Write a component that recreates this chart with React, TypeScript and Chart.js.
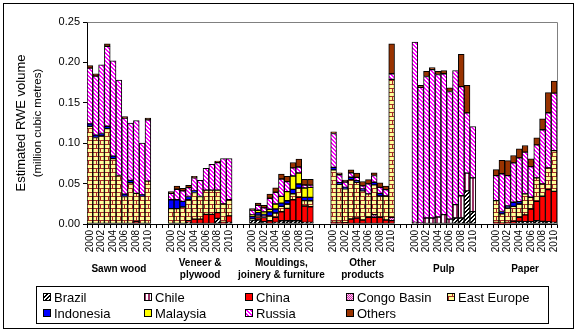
import React, { useEffect, useRef } from 'react';
import { Chart, registerables } from 'chart.js';

Chart.register(...registerables);

const FONT = "'Liberation Sans', Arial, Helvetica, sans-serif";

// ---- categories ----
const yearLabels = ['2000', '', '2002', '', '2004', '', '2006', '', '2008', '', '2010'];
const groupNames: string[][] = [
  ['Sawn wood'],
  ['Veneer &', 'plywood'],
  ['Mouldings,', 'joinery & furniture'],
  ['Other', 'products'],
  ['Pulp'],
  ['Paper'],
];
const gapSize = 3;
const yTicks = [0, 0.05, 0.1, 0.15, 0.2, 0.25];

const seriesNames = ['Brazil', 'Chile', 'China', 'Congo Basin', 'East Europe', 'Indonesia', 'Malaysia', 'Russia', 'Others'];

const n = null;
// each series: Sawn wood | Veneer & plywood | Mouldings | Other products | Pulp | Paper  (2000..2010)
const brazil = [
  n, n, n, n, n, n, n, n, n, n, n,
  n, n, n, 0.002, n, n, n, n, 0.007, n, 0.002,
  0.005, 0.005, 0.003, n, 0.002, 0.004, 0.004, 0.004, 0.004, 0.002, 0.002,
  n, n, n, n, n, n, n, n, n, n, n,
  n, n, n, n, n, n, n, 0.0074, 0.0074, 0.041, 0.0153,
  n, n, n, n, 0.0033, 0.0029, 0.0029, 0.004, 0.0033, 0.0029, 0.002,
];
const chile = [
  n, n, n, n, n, n, n, n, n, n, n,
  n, n, n, n, n, n, n, n, n, n, n,
  n, n, n, n, n, n, n, n, n, n, n,
  n, n, n, n, n, n, n, n, n, n, n,
  0.002, 0.001, 0.0074, 0.0074, 0.0087, 0.0116, 0.006, 0.0166, 0.0276, 0.022, 0.0417,
  n, n, n, n, n, n, n, n, n, n, n,
];
const china = [
  n, n, n, n, n, n, n, n, 0.003, n, n,
  n, n, n, 0.002, 0.006, 0.006, 0.012, 0.012, 0.007, 0.002, 0.008,
  n, 0.003, 0.005, 0.004, 0.0062, 0.0112, 0.0153, 0.026, 0.0289, 0.0203, 0.0194,
  0.002, 0.002, 0.0017, 0.0062, 0.0074, 0.005, 0.0083, 0.0083, 0.0083, 0.005, 0.0041,
  n, n, n, n, n, n, n, n, n, n, n,
  0.002, 0.001, 0.002, 0.0033, 0.005, 0.0083, 0.0157, 0.024, 0.031, 0.0397, 0.0384,
];
const congoBasin = [
  n, n, n, n, n, n, n, n, n, n, n,
  n, n, n, n, n, n, n, n, n, n, n,
  n, n, n, n, n, n, n, n, n, n, n,
  n, n, n, n, n, n, n, 0.0033, n, n, 0.0041,
  n, n, n, n, n, n, n, n, n, n, n,
  n, n, n, n, n, n, n, n, n, n, n,
];
const eastEurope = [
  0.121, 0.107, 0.109, 0.118, 0.081, 0.06, 0.034, 0.051, 0.035, 0.035, 0.053,
  0.019, 0.019, 0.021, 0.026, 0.033, 0.028, 0.03, 0.03, 0.028, 0.023, 0.02,
  0.0012, 0.003, 0.002, 0.006, 0.0054, 0.0066, 0.0054, 0.0074, 0.0116, 0.0066, 0.0074,
  0.065, 0.047, 0.0417, 0.0488, 0.0442, 0.036, 0.0289, 0.0368, 0.0264, 0.0297, 0.1707,
  n, n, n, n, n, n, n, n, n, n, n,
  0.0269, 0.0116, 0.0178, 0.0186, 0.0165, 0.026, 0.0145, 0.029, 0.0153, 0.0269, 0.0504,
];
const indonesia = [
  0.003, 0.003, 0.003, 0.003, 0.003, n, 0.003, 0.003, n, 0.001, n,
  0.011, 0.011, 0.007, 0.004, 0.002, n, n, n, n, n, n,
  0.003, 0.003, 0.002, 0.005, 0.005, 0.0041, 0.0041, 0.0054, 0.005, 0.0041, 0.0041,
  0.003, 0.002, 0.002, 0.0029, 0.002, 0.0025, n, 0.0033, 0.0033, n, n,
  n, n, n, n, n, n, n, n, n, n, n,
  n, 0.0029, 0.0025, 0.005, 0.0029, n, n, n, n, n, n,
];
const malaysia = [
  n, n, n, n, n, n, n, n, n, n, n,
  n, n, n, n, n, n, n, n, n, n, n,
  0.002, 0.003, 0.003, 0.0033, 0.0062, 0.0083, 0.0112, 0.0166, 0.0136, 0.0116, 0.0124,
  n, n, n, n, n, n, n, n, n, n, n,
  n, n, n, n, n, n, n, n, n, n, n,
  n, n, n, n, n, n, n, n, n, n, n,
];
const russia = [
  0.069, 0.073, 0.085, 0.099, 0.118, 0.118, 0.094, 0.071, 0.09, 0.064, 0.076,
  0.008, 0.013, 0.013, 0.011, 0.016, 0.02, 0.027, 0.032, 0.034, 0.056, 0.051,
  0.006, 0.006, 0.005, 0.0136, 0.0145, 0.0215, 0.0124, 0.01, 0.0074, 0.0037, 0.0029,
  0.042, 0.0099, 0.0066, 0.0054, 0.0041, 0.0037, 0.0124, 0.0083, 0.0074, 0.0078, 0.007,
  0.223, 0.168, 0.1752, 0.1836, 0.1763, 0.1744, 0.158, 0.166, 0.135, 0.0746, 0.0637,
  0.031, 0.0467, 0.0376, 0.0488, 0.0542, 0.0517, 0.038, 0.041, 0.067, 0.0682, 0.0711,
];
const others = [
  0.003, 0.003, n, 0.003, n, n, 0.002, n, n, n, 0.002,
  0.002, 0.004, 0.003, 0.003, 0.002, n, n, n, 0.002, n, n,
  0.002, 0.003, 0.003, 0.005, 0.0054, 0.0062, 0.0066, 0.0067, 0.0099, 0.007, 0.007,
  0.002, 0.0025, 0.0025, 0.0037, 0.0054, 0.0054, 0.0054, 0.0033, 0.0054, 0.0045, 0.0372,
  n, 0.0025, 0.0062, 0.0025, 0.004, 0.004, 0.0045, n, 0.04, 0.034, n,
  0.0074, 0.0165, 0.0186, 0.0091, 0.0112, 0.0083, 0.0095, 0.0087, 0.0136, 0.0248, 0.0149,
];

const seriesValues = [brazil, chile, china, congoBasin, eastEurope, indonesia, malaysia, russia, others];

function buildLabels(): string[] {
  const out: string[] = [];
  groupNames.forEach((_, g) => {
    if (g > 0) for (let k = 0; k < gapSize; k++) out.push('');
    yearLabels.forEach((y) => out.push(y));
  });
  return out;
}
function expand(values: (number | null)[]): (number | null)[] {
  const out: (number | null)[] = [];
  const per = yearLabels.length;
  groupNames.forEach((_, g) => {
    if (g > 0) for (let k = 0; k < gapSize; k++) out.push(null);
    for (let i = 0; i < per; i++) out.push(values[g * per + i]);
  });
  return out;
}

function makePattern(kind: string): CanvasPattern | string {
  const c = document.createElement('canvas');
  const ctx = c.getContext('2d')!;
  if (kind === 'brazil') {
    c.width = 4; c.height = 4;
    ctx.fillStyle = '#fff'; ctx.fillRect(0, 0, 4, 4);
    ctx.fillStyle = '#000';
    for (let x = 0; x < 4; x++) for (let y = 0; y < 4; y++) if ((x + y) % 4 < 2) ctx.fillRect(x, y, 1, 1);
  } else if (kind === 'russia') {
    c.width = 4; c.height = 4;
    ctx.fillStyle = '#fff'; ctx.fillRect(0, 0, 4, 4);
    ctx.fillStyle = '#FF00FF';
    for (let x = 0; x < 4; x++) for (let y = 0; y < 4; y++) if (((x - y) % 4 + 4) % 4 < 2) ctx.fillRect(x, y, 1, 1);
  } else if (kind === 'chile') {
    c.width = 4; c.height = 4;
    ctx.fillStyle = '#fff'; ctx.fillRect(0, 0, 4, 4);
    ctx.fillStyle = '#993366'; ctx.fillRect(0, 0, 2, 4);
  } else if (kind === 'congo') {
    c.width = 2; c.height = 2;
    ctx.fillStyle = '#FFCCFF'; ctx.fillRect(0, 0, 2, 2);
    ctx.fillStyle = '#CC3399'; ctx.fillRect(0, 0, 1, 1); ctx.fillRect(1, 1, 1, 1);
  } else if (kind === 'brick') {
    c.width = 8; c.height = 8;
    ctx.fillStyle = '#FFFF99'; ctx.fillRect(0, 0, 8, 8);
    ctx.fillStyle = '#A52A2A';
    ctx.fillRect(0, 0, 8, 1);
    ctx.fillRect(0, 4, 8, 1);
    ctx.fillRect(0, 1, 1, 3);
    ctx.fillRect(4, 5, 1, 3);
  }
  return ctx.createPattern(c, 'repeat')!;
}

export default function App() {
  const ref = useRef<HTMLCanvasElement>(null);

  useEffect(() => {
    document.body.style.margin = '0';
    const canvas = ref.current!;
    const fills: (CanvasPattern | string)[] = [
      makePattern('brazil'),
      makePattern('chile'),
      '#FF0000',
      makePattern('congo'),
      makePattern('brick'),
      '#0000FF',
      '#FFFF00',
      makePattern('russia'),
      '#993300',
    ];
    const labels = buildLabels();

    const decor = {
      id: 'decor',
      afterDraw(chart: any) {
        const ctx = chart.ctx as CanvasRenderingContext2D;
        const area = chart.chartArea;
        const xs = chart.scales.x;
        ctx.save();
        // plot area border (top/right) in grey
        ctx.strokeStyle = '#808080';
        ctx.lineWidth = 1;
        ctx.beginPath();
        ctx.moveTo(Math.round(area.left) + 0.5, Math.round(area.top) + 0.5);
        ctx.lineTo(Math.round(area.right) + 0.5, Math.round(area.top) + 0.5);
        ctx.lineTo(Math.round(area.right) + 0.5, Math.round(area.bottom) + 0.5);
        ctx.stroke();

        // outer frame
        ctx.strokeStyle = '#000';
        ctx.strokeRect(3.5, 3.5, 570, 325);

        // y title
        ctx.fillStyle = '#000';
        ctx.textAlign = 'center';
        ctx.textBaseline = 'middle';
        const cy = (area.top + area.bottom) / 2;
        ctx.save();
        ctx.translate(21, cy);
        ctx.rotate(-Math.PI / 2);
        ctx.font = `13px ${FONT}`;
        ctx.fillText('Estimated RWE volume', 0, 0);
        ctx.restore();
        ctx.save();
        ctx.translate(38, cy);
        ctx.rotate(-Math.PI / 2);
        ctx.font = `11.5px ${FONT}`;
        ctx.fillText('(million cubic metres)', 0, 0);
        ctx.restore();

        // group labels
        ctx.font = `bold 10px ${FONT}`;
        groupNames.forEach((lines, g) => {
          const idx = g * (yearLabels.length + gapSize) + (yearLabels.length - 1) / 2;
          const x = xs.getPixelForValue(idx);
          if (lines.length === 1) {
            ctx.fillText(lines[0], x, 269);
          } else {
            ctx.fillText(lines[0], x, 263);
            ctx.fillText(lines[1], x, 275);
          }
        });

        // legend
        ctx.strokeStyle = '#000';
        ctx.strokeRect(36.5, 286.5, 512, 37);
        ctx.textAlign = 'left';
        ctx.font = `13px ${FONT}`;
        chart.data.datasets.forEach((ds: any, i: number) => {
          const col = i % 5;
          const row = Math.floor(i / 5);
          const x = 43 + col * 101;
          const y = 297 + row * 16;
          ctx.fillStyle = ds.backgroundColor;
          ctx.fillRect(x, y - 4, 8, 8);
          ctx.strokeStyle = '#000';
          ctx.strokeRect(x + 0.5, y - 3.5, 7, 7);
          ctx.fillStyle = '#000';
          ctx.fillText(ds.label, x + 11, y + 1);
        });
        ctx.restore();
      },
    };

    const chart = new Chart(canvas, {
      type: 'bar',
      data: {
        labels,
        datasets: seriesNames.map((name, i) => ({
          label: name,
          data: expand(seriesValues[i]),
          backgroundColor: fills[i] as any,
          borderColor: '#000',
          borderWidth: 1,
          borderSkipped: false,
          barPercentage: 1,
          categoryPercentage: 1,
          stack: 's',
        })),
      },
      options: {
        responsive: false,
        animation: false,
        devicePixelRatio: 1,
        layout: { padding: { left: 0, right: 20, top: 22, bottom: 0 } },
        plugins: { legend: { display: false }, tooltip: { enabled: false }, title: { display: false } },
        scales: {
          x: {
            stacked: true,
            offset: true,
            afterFit: (s: any) => { s.height = 108; },
            grid: { offset: true, drawOnChartArea: false, drawTicks: true, tickLength: 4, color: '#000' },
            border: { color: '#000' },
            ticks: {
              autoSkip: false,
              minRotation: 90,
              maxRotation: 90,
              padding: 2,
              color: '#000',
              font: { family: FONT, size: 10 },
            },
          },
          y: {
            stacked: true,
            min: yTicks[0],
            max: yTicks[yTicks.length - 1],
            afterFit: (s: any) => { s.width = 87; },
            afterBuildTicks: (s: any) => { s.ticks = yTicks.map((v) => ({ value: v })); },
            grid: { drawOnChartArea: false, drawTicks: true, tickLength: 4, color: '#000' },
            border: { color: '#000' },
            ticks: {
              padding: 3,
              color: '#000',
              font: { family: FONT, size: 11 },
              callback: (v: any) => Number(v).toFixed(2),
            },
          },
        },
      },
      plugins: [decor],
    });
    return () => chart.destroy();
  }, []);

  return (
    <div style={{ width: 577, height: 332 }}>
      <canvas ref={ref} width={577} height={332} style={{ display: 'block', width: 577, height: 332 }} />
    </div>
  );
}
